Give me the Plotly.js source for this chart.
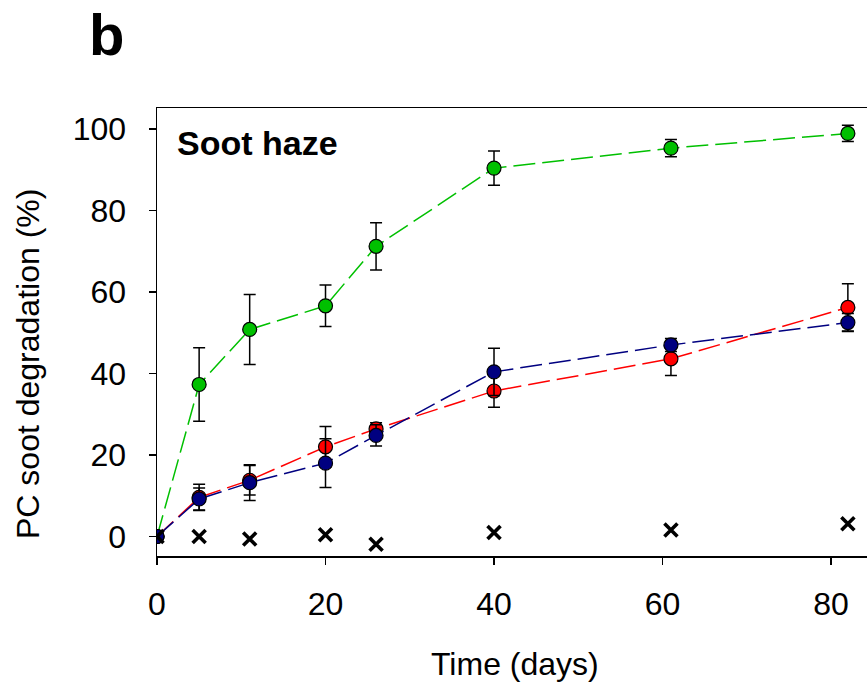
<!DOCTYPE html>
<html>
<head>
<meta charset="utf-8">
<script src="https://cdn.plot.ly/plotly-3.0.1.min.js"></script>
<style>html,body{margin:0;padding:0;background:#fff;}#chart{width:867px;height:686px;}</style>
</head>
<body>
<div id="chart"></div>
<script>
// Time (days)
const days = [0, 5, 11, 20, 26, 40, 61, 82];
const crossDays = [0, 5, 11, 20, 26, 40, 61, 82];

// Green series
const greenVals = [0, 37.3, 50.8, 56.6, 71.2, 90.4, 95.3, 98.9];
const greenErr  = [0, 9.0, 8.6, 5.1, 5.8, 4.2, 2.1, 2.0];

// Red series
const redVals = [0, 9.6, 13.8, 22.0, 26.4, 35.7, 43.6, 56.2];
const redErr  = [0, 3.2, 3.6, 5.0, 1.5, 4.0, 4.1, 5.8];

// Blue series
const blueVals = [0, 9.2, 13.2, 18.0, 24.8, 40.4, 47.0, 52.5];
const blueErr  = [0, 2.7, 4.4, 6.0, 2.6, 5.8, 1.6, 2.2];

// Control (crosses)
const crossVals = [0, 0.0, -0.6, 0.4, -1.9, 1.0, 1.6, 3.1];

const xTicks = [0, 20, 40, 60, 80];
const yTicks = [0, 20, 40, 60, 80, 100];

const FONT = 'Liberation Sans, Arial, Helvetica, sans-serif';

function series(x, y, err, color) {
  return {
    x: x, y: y, type: 'scatter', mode: 'lines+markers',
    line: {color: color, width: 1.5, dash: '22px,7px'},
    marker: {color: color, size: 14, line: {color: '#000', width: 1.2}},
    error_y: {type: 'data', array: err, visible: true, color: '#000', thickness: 1.5, width: 6},
    hoverinfo: 'skip', showlegend: false
  };
}

const data = [
  series(days, greenVals, greenErr, '#00c000'),
  series(days, redVals, redErr, '#ff0000'),
  series(days, blueVals, blueErr, '#000080'),
  {
    x: crossDays, y: crossVals, type: 'scatter', mode: 'markers',
    marker: {symbol: 'x-thin', size: 13, color: '#000', line: {color: '#000', width: 3.6}},
    hoverinfo: 'skip', showlegend: false
  }
];

const layout = {
  width: 867, height: 686,
  margin: {l: 157, r: 0, t: 108, b: 130, pad: 0},
  paper_bgcolor: '#fff', plot_bgcolor: '#fff',
  font: {family: FONT, color: '#000'},
  xaxis: {
    range: [0, 84.27], tickvals: xTicks, ticktext: xTicks.map(String),
    ticks: 'outside', ticklen: 7, tickwidth: 1.3, tickcolor: '#000',
    showline: true, linecolor: '#000', linewidth: 1.5, mirror: true,
    showgrid: false, zeroline: false, ticklabelstandoff: 12,
    tickfont: {family: FONT, size: 32, color: '#000'}
  },
  yaxis: {
    range: [-4.79, 105.15], tickvals: yTicks, ticktext: yTicks.map(String),
    ticks: 'outside', ticklen: 7, tickwidth: 1.3, tickcolor: '#000',
    showline: true, linecolor: '#000', linewidth: 1.5,
    showgrid: false, zeroline: false, ticklabelstandoff: 16,
    tickfont: {family: FONT, size: 32, color: '#000'}
  },
  annotations: [
    {text: '<b>b</b>', xref: 'paper', yref: 'paper', x: -157/710 + 87/710, y: 1 + (108-34)/448,
     xanchor: 'left', yanchor: 'middle', showarrow: false, font: {family: FONT, size: 58, color: '#000'}},
    {text: '<b>Soot haze</b>', xref: 'paper', yref: 'paper', x: (175-157)/710, y: 1 - (143-108)/448,
     xanchor: 'left', yanchor: 'middle', showarrow: false, font: {family: FONT, size: 34, color: '#000'}},
    {text: 'Time (days)', xref: 'paper', yref: 'paper', x: (515-157)/710, y: -(664-556)/448,
     xanchor: 'center', yanchor: 'middle', showarrow: false, font: {family: FONT, size: 32, color: '#000'}},
    {text: 'PC soot degradation (%)', xref: 'paper', yref: 'paper', x: -(157-28)/710, y: 1 - (364-108)/448,
     xanchor: 'center', yanchor: 'middle', textangle: -90, showarrow: false, font: {family: FONT, size: 32, color: '#000'}}
  ]
};

Plotly.newPlot('chart', data, layout, {staticPlot: true, displayModeBar: false});
</script>
</body>
</html>
